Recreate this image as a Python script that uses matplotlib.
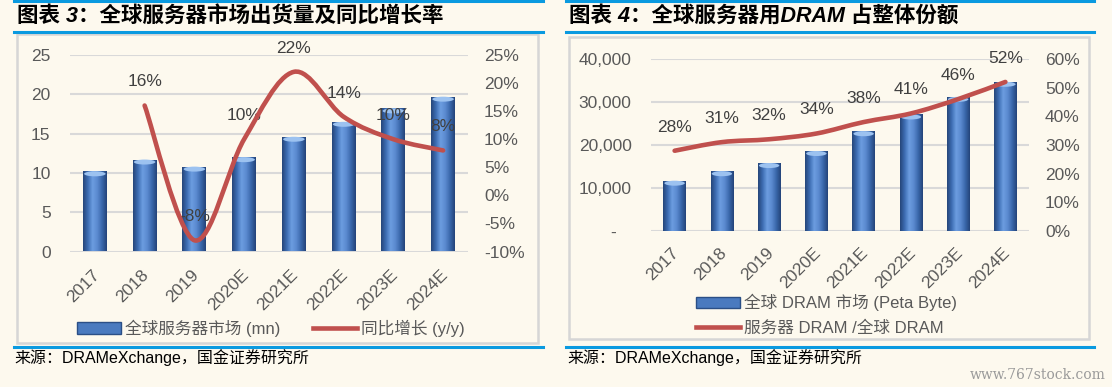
import numpy as np
import matplotlib
matplotlib.use('Agg')
import matplotlib.pyplot as plt
from matplotlib.path import Path
from matplotlib.patches import PathPatch, Rectangle, Ellipse, Patch
from matplotlib.colors import LinearSegmentedColormap
from matplotlib.lines import Line2D
from matplotlib.ticker import FuncFormatter
import matplotlib.transforms as mtransforms

plt.rcParams['font.family'] = ['Liberation Sans', 'Noto Sans CJK SC']

# 数据
years = ['2017', '2018', '2019', '2020E', '2021E', '2022E', '2023E', '2024E']
servers_mn = [10.2, 11.7, 10.8, 12.0, 14.6, 16.5, 18.2, 19.7]
server_yoy = [16, -8, 10, 22, 14, 10, 8]          # 从 2018 开始
dram_pb = [11700, 13900, 15800, 18600, 23200, 27100, 31200, 34700]
server_share = [28, 31, 32, 34, 38, 41, 46, 52]

BG = '#fdf9ee'
BLUE = '#0a9ae0'
RED = '#c0504d'
TXT = '#595959'
LBL = '#404040'
CYL = LinearSegmentedColormap.from_list(
    'cyl', ['#26467a', '#3d6db3', '#6c9de0', '#5b8ad0', '#3a68ab', '#24447a'])

W, H = 1112, 387
fig = plt.figure(figsize=(W / 100, H / 100), dpi=100, facecolor=BG)


def fx(px):
    return px / W


def fy(py):
    return 1 - py / H


def smooth_path(xs, ys):
    # 类似 Excel 平滑线 (Catmull-Rom -> Bezier)
    pts = np.column_stack([xs, ys]).astype(float)
    n = len(pts)
    verts = [pts[0]]
    codes = [Path.MOVETO]
    for i in range(n - 1):
        p0 = pts[i - 1] if i > 0 else pts[i]
        p1, p2 = pts[i], pts[i + 1]
        p3 = pts[i + 2] if i + 2 < n else pts[i + 1]
        verts += [p1 + (p2 - p0) / 6, p2 - (p3 - p1) / 6, p2]
        codes += [Path.CURVE4] * 3
    return Path(verts, codes)


def cyl_bars(ax, x, vals, width, cap_px):
    bars = ax.bar(x, vals, width=width, color='none', edgecolor='none', zorder=2)
    grad = np.linspace(0, 1, 64).reshape(1, -1)
    y0, y1 = ax.get_ylim()
    ax_h = ax.get_position().height * H
    cap = (y1 - y0) / ax_h * cap_px
    for b in bars:
        bx, bw, bh = b.get_x(), b.get_width(), b.get_height()
        im = ax.imshow(grad, extent=(bx, bx + bw, 0, bh), aspect='auto', cmap=CYL,
                       interpolation='bilinear', zorder=2)
        im.set_clip_path(b)
        ax.add_patch(Ellipse((bx + bw / 2, bh - cap / 2), bw * 0.9, cap,
                             fc='#9cc2f0', ec='none', zorder=3))
    ax.set_xlim(-0.5, len(vals) - 0.5)
    ax.set_ylim(y0, y1)


def style(ax):
    ax.set_facecolor('none')
    for s in ax.spines.values():
        s.set_visible(False)
    ax.tick_params(length=0, labelsize=12.5, labelcolor=TXT)


def xlabels(ax, pad_pt):
    ax.set_xticks(np.arange(len(years)))
    ax.set_xticklabels(years, rotation=45, ha='right', va='center', rotation_mode='anchor')
    ax.tick_params(axis='x', pad=pad_pt)
    off = mtransforms.ScaledTranslation(2 / 100, 0, fig.dpi_scale_trans)
    for t in ax.get_xticklabels():
        t.set_transform(t.get_transform() + off)


pct = FuncFormatter(lambda v, p: f'{v:.0f}%')

# ---------------- 图表 3 ----------------
ax1 = fig.add_axes([fx(70), fy(251.5), fx(398), (251.5 - 55) / H])
style(ax1)
ax1.set_ylim(0, 25)
ax1.set_yticks(range(0, 26, 5))
ax1.yaxis.grid(True, color='#d9d9d9', lw=1.5)
ax1.set_axisbelow(True)
ax1.tick_params(axis='y', pad=14)
x = np.arange(len(years))
cyl_bars(ax1, x, servers_mn, 0.48, 5)
xlabels(ax1, 15)

ax1r = ax1.twinx()
style(ax1r)
ax1r.set_ylim(-10, 25)
ax1r.set_yticks(range(-10, 26, 5))
ax1r.yaxis.set_major_formatter(pct)
ax1r.tick_params(axis='y', pad=11.5)
xs = x[1:]
ax1r.add_patch(PathPatch(smooth_path(xs, server_yoy), fill=False, ec=RED, lw=3.3,
                         capstyle='round', zorder=4))
for xi, v in zip(xs, server_yoy):
    ax1r.annotate(f'{v}%', (xi, v), xytext=(0, 17), textcoords='offset points',
                  ha='center', va='center', fontsize=12.5, color=LBL)

h_bar = Patch(fc='#4a7abf', ec='#2b4f86')
h_line = Line2D([], [], color=RED, lw=3.3)
fig.legend([h_bar, h_line], ['全球服务器市场 (mn)', '同比增长 (y/y)'], loc='center',
           bbox_to_anchor=(fx(271), fy(328)), ncol=2, frameon=False, fontsize=12,
           labelcolor=TXT, handlelength=2.6, handletextpad=0.25, columnspacing=2.0,
           borderpad=0)

# ---------------- 图表 4 ----------------
ax2 = fig.add_axes([fx(651), fy(231), fx(378), (231 - 59) / H])
style(ax2)
ax2.set_ylim(0, 40000)
ax2.set_yticks(range(0, 40001, 10000))
ax2.yaxis.set_major_formatter(FuncFormatter(lambda v, p: f'{v:,.0f}' if v else '-   '))
ax2.yaxis.grid(True, color='#d9d9d9', lw=1.5)
ax2.set_axisbelow(True)
ax2.tick_params(axis='y', pad=14)
cyl_bars(ax2, x, dram_pb, 0.48, 5)
xlabels(ax2, 14)

ax2r = ax2.twinx()
style(ax2r)
ax2r.set_ylim(0, 60)
ax2r.set_yticks(range(0, 61, 10))
ax2r.yaxis.set_major_formatter(pct)
ax2r.tick_params(axis='y', pad=11.5)
ax2r.add_patch(PathPatch(smooth_path(x, server_share), fill=False, ec=RED, lw=3.3,
                         capstyle='round', zorder=4))
for xi, v in zip(x, server_share):
    ax2r.annotate(f'{v}%', (xi, v), xytext=(0, 17), textcoords='offset points',
                  ha='center', va='center', fontsize=12.5, color=LBL)

fig.legend([h_bar, h_line], ['全球 DRAM 市场 (Peta Byte)', '服务器 DRAM /全球 DRAM'],
           loc='center left', bbox_to_anchor=(fx(688), fy(315)), ncol=1, frameon=False,
           fontsize=12, labelcolor=TXT, handlelength=2.6, handletextpad=0.25,
           labelspacing=0.55, borderpad=0)

# ---------------- 框线与标题 ----------------
for (l, r), (bt, bb) in [((14, 543), (34, 343)), ((566, 1094), (37, 339))]:
    for yy in (1, 32, 347):
        fig.add_artist(Line2D([fx(l), fx(r)], [fy(yy), fy(yy)], color=BLUE, lw=2.2,
                              transform=fig.transFigure))
    fig.add_artist(Rectangle((fx(l + 3), fy(bb)), fx(r - l - 8), (bb - bt) / H,
                             transform=fig.transFigure, fill=False, ec='#d6d6d6', lw=1.8))

fig.text(fx(17), fy(16), '图表 3：全球服务器市场出货量及同比增长率', fontsize=15.5,
         weight='bold', style='italic', va='center', ha='left', color='black')
fig.text(fx(569), fy(16), '图表 4：全球服务器用DRAM 占整体份额', fontsize=15.5,
         weight='bold', style='italic', va='center', ha='left', color='black')
fig.text(fx(14), fy(358), '来源：DRAMeXchange，国金证券研究所', fontsize=11.5,
         va='center', ha='left', color='black')
fig.text(fx(567), fy(358), '来源：DRAMeXchange，国金证券研究所', fontsize=11.5,
         va='center', ha='left', color='black')
fig.text(fx(1106), fy(375), 'www.767stock.com', fontsize=10, color='#9a9a9a',
         family='DejaVu Serif', va='center', ha='right')

fig.savefig('out.png', dpi=100, facecolor=BG)
